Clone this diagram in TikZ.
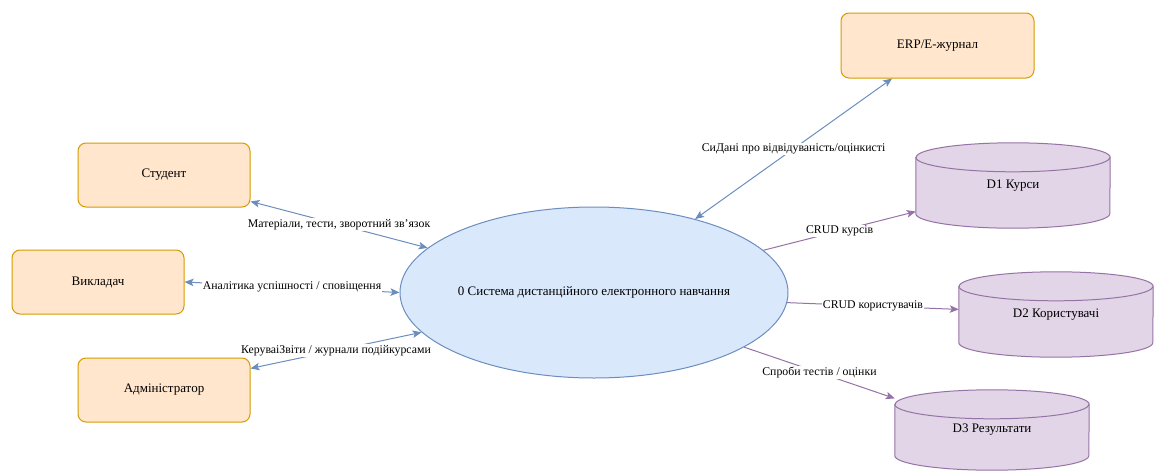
\documentclass[tikz,border=0pt]{standalone}
\usepackage{fontspec}
\setmainfont{Liberation Serif}
\usetikzlibrary{arrows.meta, shapes.geometric}

\definecolor{entfill}{HTML}{FFE6CC}
\definecolor{entline}{HTML}{D79B00}
\definecolor{procfill}{HTML}{DAE8FC}
\definecolor{procline}{HTML}{6C8EBF}
\definecolor{storefill}{HTML}{E1D5E7}
\definecolor{storeline}{HTML}{9673A6}

\pgfdeclarelayer{backdrop}
\pgfdeclarelayer{storebody}
\pgfsetlayers{backdrop,storebody,main}

% cylinder outline for a data store node (top cap ry = 14.5pt)
\newcommand\storecyl[1]{%
  \begin{pgfonlayer}{storebody}
    \path[fill=storefill, draw=storeline, line width=1pt]
      ([yshift=-14.5pt]#1.north west) -- ([yshift=14.5pt]#1.south west)
      arc[start angle=180, end angle=360, x radius=97pt, y radius=14.5pt]
      -- ([yshift=-14.5pt]#1.north east)
      arc[start angle=0, end angle=180, x radius=97pt, y radius=14.5pt] -- cycle;
    \draw[storeline, line width=1pt] ([yshift=-14.5pt]#1.north west)
      arc[start angle=180, end angle=360, x radius=97pt, y radius=14.5pt];
  \end{pgfonlayer}}

\tikzset{
  ent/.style={rectangle, rounded corners=8pt, draw=entline, fill=entfill,
    line width=1pt, minimum width=172pt, minimum height=64pt, inner sep=0pt,
    font=\fontsize{13}{15}\selectfont},
  proc/.style={ellipse, draw=procline, fill=procfill, line width=1pt,
    minimum width=388pt, minimum height=171pt, inner sep=0pt,
    font=\fontsize{13}{15}\selectfont},
  store/.style={rectangle, inner sep=0pt, minimum width=194pt,
    minimum height=85pt, font=\fontsize{13}{15}\selectfont},
  tip/.tip={Stealth[length=9pt, width=7.5pt, inset=2pt]},
  flowb/.style={draw=procline, line width=1pt, {tip}-{tip}},
  flowp/.style={draw=storeline, line width=1pt, -{tip}},
  lbl/.style={midway, fill=white, inner sep=1pt, text=black,
    font=\fontsize{11.8}{14}\selectfont}
}

\begin{document}
\begin{tikzpicture}[x=1pt, y=-1pt]
  \begin{pgfonlayer}{backdrop}
    \fill[white] (0,0) rectangle (1161,471);
  \end{pgfonlayer}
  \useasboundingbox (0,0) rectangle (1161,471);

  % external entities
  \node[ent] (stud) at (164,175) {Студент};
  \node[ent] (vyk)  at (98,282)  {Викладач};
  \node[ent] (adm)  at (164,390) {Адміністратор};
  \node[ent, minimum width=193pt, minimum height=65pt] (erp) at (937.5,45.5) {ERP/E-журнал};

  % process
  \node[proc] (sys) at (594,292.5) {0 Система дистанційного електронного навчання};

  % data stores
  \node[store] (d1) at (1013,185.5) {D1 Курси};
  \node[store] (d2) at (1056,314.5) {D2 Користувачі};
  \node[store, minimum height=80pt] (d3) at (992,430) {D3 Результати};
  \storecyl{d1}
  \storecyl{d2}
  \storecyl{d3}

  % flows with external entities
  \draw[flowb] (stud.-17) -- (sys.165)
    node[lbl] {Матеріали, тести, зворотний зв’язок};
  \draw[flowb] (vyk.east) -- (sys.west)
    node[lbl] {Аналітика успішності / сповіщення};
  \draw[flowb] (adm.14) -- (sys.193)
    node[lbl] {КеруваіЗвіти / журнали подійкурсами};
  \draw[flowb] (erp.216) -- (sys.36)
    node[lbl] {СиДані про відвідуваність/оцінкисті};

  % flows with data stores
  \draw[flowp] (sys.14) -- (d1.195) node[lbl] {CRUD курсів};
  \draw[flowp] (sys.-3) -- (d2.177) node[lbl] {CRUD користувачів};
  \draw[flowp] (sys.-20) -- (d3.162) node[lbl] {Спроби тестів / оцінки};
\end{tikzpicture}
\end{document}
